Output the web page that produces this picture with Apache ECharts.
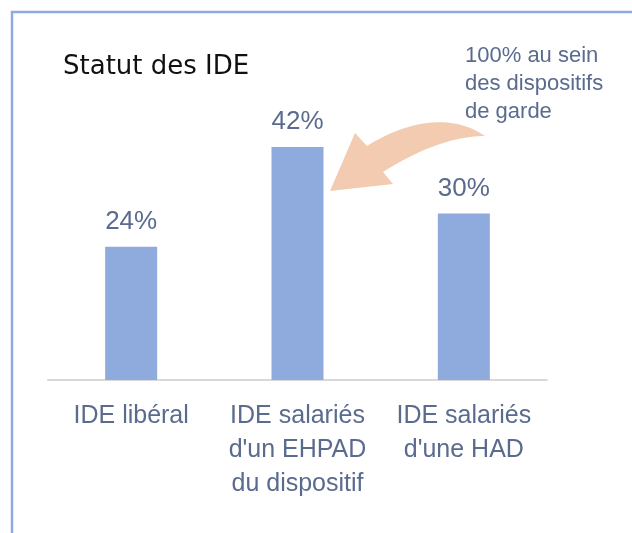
<!DOCTYPE html>
<html>
<head>
<meta charset="utf-8">
<script src="https://cdn.jsdelivr.net/npm/echarts@6/dist/echarts.min.js"></script>
<style>
  html, body { margin: 0; padding: 0; background: #fff; }
  #myChart { width: 632px; height: 533px; }
</style>
</head>
<body>
<div id="myChart"></div>
<script>
// données
var categories = ["IDE libéral", "IDE salariés\nd'un EHPAD\ndu dispositif", "IDE salariés\nd'une HAD"];
var values = [24, 42, 30];
var titleText = "Statut des IDE";
var noteText = "100% au sein\ndes dispositifs\nde garde";

var textColor = "#5a6b8e";
var barColor = "#8faadc";

// contour de la flèche courbe (courbes de Bézier échantillonnées)
function bez(p0, c1, c2, p1, n) {
  var pts = [];
  for (var i = 0; i <= n; i++) {
    var t = i / n, u = 1 - t;
    var a = u * u * u, b = 3 * u * u * t, c = 3 * u * t * t, d = t * t * t;
    pts.push([a * p0[0] + b * c1[0] + c * c2[0] + d * p1[0],
              a * p0[1] + b * c1[1] + c * c2[1] + d * p1[1]]);
  }
  return pts;
}
var arrowPts = []
  .concat(bez([485, 136], [450, 112], [405, 122], [367, 146], 24))
  .concat([[355, 133], [330, 191], [393, 184]])
  .concat(bez([383, 172], [405, 158], [445, 136], [485, 136], 24));

var mycharts = echarts.init(document.getElementById("myChart"));
var option = {
  backgroundColor: "#fff",
  animation: false,
  title: {
    text: titleText,
    left: 58,
    top: 49,
    textStyle: {
      fontFamily: "DejaVu Sans",
      fontSize: 26,
      fontWeight: "normal",
      color: "#111"
    }
  },
  grid: {
    left: 48,
    right: 85,
    top: 102.5,
    bottom: 153,
    containLabel: false
  },
  xAxis: {
    type: "category",
    data: categories,
    axisLine: { lineStyle: { color: "#d9d9d9", width: 2 } },
    axisTick: { show: false },
    axisLabel: {
      margin: 19,
      interval: 0,
      fontFamily: "Liberation Sans",
      fontSize: 25,
      lineHeight: 34,
      color: textColor
    }
  },
  yAxis: {
    type: "value",
    min: 0,
    max: 50,
    show: false,
    splitLine: { show: false }
  },
  series: [
    {
      type: "bar",
      data: values,
      barWidth: 52,
      itemStyle: { color: barColor },
      label: {
        show: true,
        position: "top",
        distance: 12,
        formatter: "{c}%",
        fontFamily: "Liberation Sans",
        fontSize: 26,
        color: textColor
      }
    }
  ],
  graphic: [
    // cadre bleu clair
    {
      type: "rect",
      shape: { x: 12, y: 12, width: 700, height: 600 },
      style: { fill: "none", stroke: "#8faadc", lineWidth: 2.5 },
      silent: true
    },
    // flèche courbe
    {
      type: "polygon",
      shape: { points: arrowPts },
      style: { fill: "#f2cbb0", stroke: "none" },
      silent: true
    },
    // annotation
    {
      type: "text",
      x: 465,
      y: 42,
      style: {
        text: noteText,
        fontFamily: "Liberation Sans",
        fontSize: 22,
        lineHeight: 28,
        fill: textColor
      },
      silent: true
    }
  ]
};
mycharts.setOption(option);
</script>
</body>
</html>
